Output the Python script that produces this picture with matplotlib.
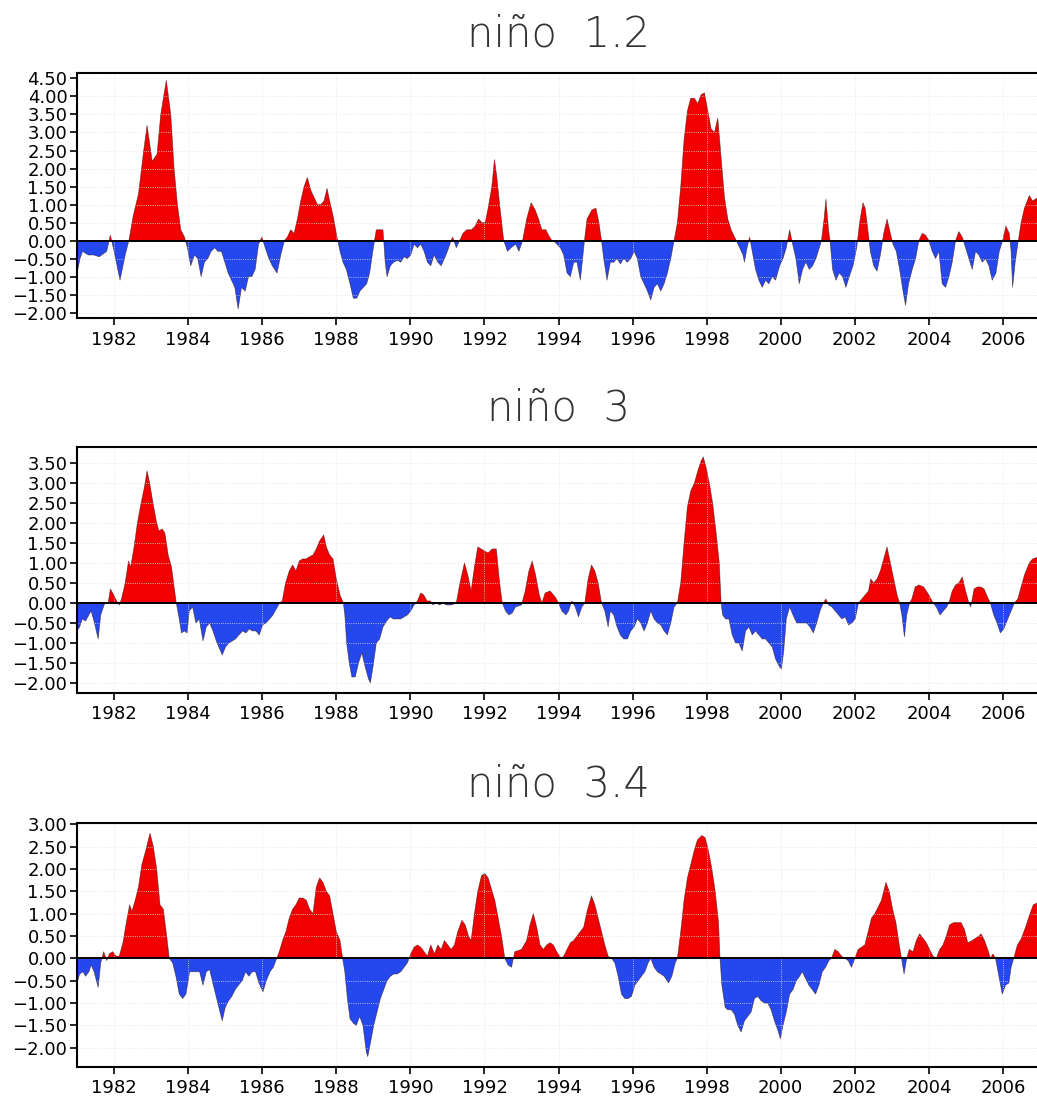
import matplotlib
matplotlib.use("Agg")
import matplotlib.pyplot as plt
import numpy as np
from matplotlib.ticker import FuncFormatter

# anomalias de TSM (leitura aproximada do grafico), tempo em anos decimais

t12 = [1981.0, 1981.08, 1981.15, 1981.3, 1981.45, 1981.6, 1981.8, 1981.9, 1982.0, 1982.16,
       1982.3, 1982.4, 1982.52, 1982.66, 1982.8, 1982.89, 1983.03, 1983.16, 1983.26, 1983.41,
       1983.53, 1983.62, 1983.71, 1983.8, 1983.9, 1983.98, 1984.07, 1984.17, 1984.26, 1984.35,
       1984.44, 1984.53, 1984.62, 1984.72, 1984.8, 1984.9, 1984.99, 1985.08, 1985.17, 1985.26,
       1985.35, 1985.44, 1985.54, 1985.63, 1985.72, 1985.81, 1985.9, 1985.99, 1986.08, 1986.18,
       1986.27, 1986.4, 1986.5, 1986.6, 1986.68, 1986.77, 1986.86, 1986.95, 1987.04, 1987.13,
       1987.22, 1987.31, 1987.4, 1987.49, 1987.58, 1987.67, 1987.75, 1987.82, 1987.91, 1988.0,
       1988.1, 1988.18, 1988.27, 1988.37, 1988.46, 1988.55, 1988.64, 1988.73, 1988.82, 1988.9,
       1989.0, 1989.08, 1989.18, 1989.26, 1989.32, 1989.37, 1989.46, 1989.55, 1989.65, 1989.74,
       1989.83, 1989.92, 1990.01, 1990.1, 1990.19, 1990.28, 1990.37, 1990.46, 1990.55, 1990.64,
       1990.74, 1990.83, 1990.92, 1991.0, 1991.1, 1991.14, 1991.24, 1991.33, 1991.42, 1991.52,
       1991.65, 1991.75, 1991.84, 1991.93, 1992.02, 1992.1, 1992.2, 1992.27, 1992.33, 1992.42,
       1992.52, 1992.62, 1992.72, 1992.84, 1992.93, 1993.03, 1993.14, 1993.26, 1993.37, 1993.46,
       1993.55, 1993.66, 1993.73, 1993.82, 1993.91, 1994.05, 1994.14, 1994.23, 1994.32, 1994.41,
       1994.5, 1994.59, 1994.65, 1994.7, 1994.77, 1994.9, 1995.01, 1995.09, 1995.16, 1995.22,
       1995.31, 1995.4, 1995.49, 1995.58, 1995.67, 1995.76, 1995.86, 1995.95, 1996.04, 1996.13,
       1996.22, 1996.31, 1996.4, 1996.49, 1996.58, 1996.67, 1996.76, 1996.85, 1996.94, 1997.03,
       1997.12, 1997.21, 1997.3, 1997.39, 1997.48, 1997.57, 1997.67, 1997.76, 1997.85, 1997.94,
       1998.03, 1998.12, 1998.21, 1998.3, 1998.39, 1998.48, 1998.57, 1998.66, 1998.75, 1998.8,
       1998.89, 1998.98, 1999.02, 1999.09, 1999.16, 1999.23, 1999.32, 1999.41, 1999.5, 1999.59,
       1999.68, 1999.77, 1999.86, 1999.97, 2000.06, 2000.15, 2000.24, 2000.32, 2000.41, 2000.5,
       2000.59, 2000.68, 2000.77, 2000.86, 2000.95, 2001.04, 2001.1, 2001.17, 2001.22, 2001.29,
       2001.33, 2001.4, 2001.49, 2001.58, 2001.67, 2001.76, 2001.85, 2001.95, 2002.05, 2002.13,
       2002.22, 2002.28, 2002.34, 2002.42, 2002.51, 2002.6, 2002.69, 2002.78, 2002.87, 2002.96,
       2003.03, 2003.12, 2003.21, 2003.3, 2003.37, 2003.45, 2003.55, 2003.64, 2003.73, 2003.82,
       2003.91, 2004.0, 2004.09, 2004.18, 2004.27, 2004.36, 2004.45, 2004.54, 2004.63, 2004.72,
       2004.81, 2004.9, 2004.99, 2005.08, 2005.17, 2005.26, 2005.35, 2005.44, 2005.53, 2005.62,
       2005.71, 2005.81, 2005.9, 2005.99, 2006.08, 2006.17, 2006.22, 2006.26, 2006.33, 2006.4,
       2006.49, 2006.58, 2006.71, 2006.8, 2006.95]
v12 = [-0.9, -0.5, -0.3, -0.4, -0.4, -0.45, -0.3, 0.15, -0.3, -1.1,
       -0.4, 0.0, 0.7, 1.3, 2.5, 3.2, 2.2, 2.4, 3.5, 4.45,
       3.5, 2.0, 1.0, 0.3, 0.1, -0.2, -0.7, -0.4, -0.5, -1.0,
       -0.6, -0.5, -0.3, -0.2, -0.3, -0.3, -0.6, -0.9, -1.1, -1.3,
       -1.9, -1.3, -1.4, -1.0, -1.0, -0.8, -0.1, 0.1, -0.2, -0.5,
       -0.7, -0.9, -0.4, 0.0, 0.1, 0.3, 0.2, 0.6, 1.1, 1.5,
       1.75, 1.4, 1.2, 1.0, 1.0, 1.1, 1.45, 1.1, 0.7, 0.2,
       -0.3, -0.6, -0.8, -1.2, -1.6, -1.6, -1.4, -1.3, -1.2, -0.9,
       -0.2, 0.3, 0.3, 0.3, -0.6, -1.0, -0.7, -0.6, -0.55, -0.6,
       -0.45, -0.5, -0.4, -0.1, -0.2, -0.1, -0.3, -0.6, -0.7, -0.4,
       -0.6, -0.7, -0.5, -0.3, 0.0, 0.1, -0.2, 0.0, 0.2, 0.3,
       0.3, 0.4, 0.6, 0.5, 0.5, 0.9, 1.5, 2.25, 1.8, 0.9,
       0.0, -0.3, -0.2, -0.1, -0.3, 0.0, 0.6, 1.05, 0.85, 0.6,
       0.3, 0.3, 0.15, 0.0, -0.05, -0.2, -0.4, -0.9, -1.0, -0.6,
       -0.6, -1.1, -0.5, 0.0, 0.6, 0.85, 0.9, 0.5, 0.0, -0.5,
       -1.1, -0.6, -0.6, -0.5, -0.65, -0.5, -0.6, -0.5, -0.3, -0.5,
       -1.0, -1.2, -1.4, -1.65, -1.3, -1.2, -1.4, -1.2, -0.9, -0.5,
       0.0, 0.5, 1.5, 2.8, 3.6, 3.95, 3.95, 3.8, 4.05, 4.1,
       3.6, 3.1, 3.0, 3.4, 2.3, 1.2, 0.6, 0.3, 0.1, 0.0,
       -0.2, -0.4, -0.6, -0.2, 0.1, -0.3, -0.8, -1.1, -1.3, -1.1,
       -1.2, -1.0, -1.1, -0.7, -0.5, -0.2, 0.3, -0.1, -0.5, -1.2,
       -0.8, -0.6, -0.8, -0.7, -0.5, -0.2, 0.0, 0.6, 1.15, 0.3,
       0.0, -0.8, -1.1, -0.9, -1.0, -1.3, -1.0, -0.7, -0.2, 0.5,
       1.05, 0.9, 0.4, -0.3, -0.7, -0.85, -0.4, 0.2, 0.6, 0.2,
       -0.1, -0.3, -0.8, -1.4, -1.8, -1.2, -0.8, -0.5, 0.0, 0.2,
       0.15, 0.0, -0.3, -0.5, -0.3, -1.2, -1.3, -1.0, -0.6, 0.0,
       0.25, 0.1, -0.2, -0.5, -0.8, -0.3, -0.4, -0.6, -0.5, -0.7,
       -1.1, -0.9, -0.3, 0.0, 0.4, 0.2, -0.3, -1.3, -0.6, -0.1,
       0.5, 0.9, 1.25, 1.1, 1.2]

t3 = [1981.0, 1981.07, 1981.14, 1981.23, 1981.32, 1981.38, 1981.47, 1981.57, 1981.64, 1981.75,
      1981.84, 1981.9, 1981.99, 1982.07, 1982.14, 1982.2, 1982.3, 1982.39, 1982.45, 1982.54,
      1982.63, 1982.73, 1982.82, 1982.89, 1982.96, 1983.05, 1983.15, 1983.21, 1983.3, 1983.37,
      1983.46, 1983.55, 1983.62, 1983.68, 1983.76, 1983.82, 1983.9, 1983.97, 1984.03, 1984.12,
      1984.21, 1984.3, 1984.4, 1984.49, 1984.58, 1984.67, 1984.76, 1984.85, 1984.92, 1985.01,
      1985.1, 1985.19, 1985.28, 1985.37, 1985.47, 1985.56, 1985.65, 1985.74, 1985.83, 1985.92,
      1986.01, 1986.1, 1986.2, 1986.29, 1986.38, 1986.47, 1986.54, 1986.63, 1986.73, 1986.82,
      1986.91, 1987.0, 1987.09, 1987.18, 1987.27, 1987.37, 1987.46, 1987.55, 1987.66, 1987.73,
      1987.82, 1987.91, 1988.0, 1988.1, 1988.19, 1988.23, 1988.28, 1988.35, 1988.42, 1988.51,
      1988.6, 1988.69, 1988.78, 1988.87, 1988.92, 1988.99, 1989.08, 1989.17, 1989.26, 1989.36,
      1989.45, 1989.54, 1989.63, 1989.74, 1989.83, 1989.92, 1990.01, 1990.1, 1990.19, 1990.28,
      1990.36, 1990.45, 1990.54, 1990.61, 1990.7, 1990.79, 1990.88, 1990.97, 1991.11, 1991.24,
      1991.34, 1991.46, 1991.55, 1991.64, 1991.73, 1991.82, 1991.91, 1992.0, 1992.1, 1992.21,
      1992.32, 1992.41, 1992.48, 1992.57, 1992.66, 1992.75, 1992.84, 1993.0, 1993.1, 1993.2,
      1993.29, 1993.38, 1993.48, 1993.55, 1993.64, 1993.77, 1993.91, 1994.0, 1994.09, 1994.2,
      1994.27, 1994.36, 1994.45, 1994.54, 1994.63, 1994.71, 1994.8, 1994.89, 1994.98, 1995.07,
      1995.16, 1995.25, 1995.34, 1995.4, 1995.49, 1995.58, 1995.67, 1995.76, 1995.86, 1995.95,
      1996.04, 1996.13, 1996.22, 1996.31, 1996.4, 1996.49, 1996.58, 1996.67, 1996.76, 1996.85,
      1996.94, 1997.03, 1997.12, 1997.21, 1997.3, 1997.39, 1997.48, 1997.57, 1997.67, 1997.76,
      1997.85, 1997.91, 1997.98, 1998.07, 1998.16, 1998.25, 1998.34, 1998.39, 1998.43, 1998.51,
      1998.6, 1998.69, 1998.78, 1998.87, 1998.96, 1999.05, 1999.14, 1999.23, 1999.32, 1999.41,
      1999.5, 1999.59, 1999.68, 1999.77, 1999.86, 1999.97, 2000.02, 2000.08, 2000.15, 2000.24,
      2000.33, 2000.43, 2000.52, 2000.61, 2000.7, 2000.79, 2000.88, 2000.97, 2001.06, 2001.15,
      2001.22, 2001.29, 2001.38, 2001.47, 2001.56, 2001.65, 2001.74, 2001.83, 2001.92, 2002.01,
      2002.1, 2002.19, 2002.28, 2002.37, 2002.43, 2002.51, 2002.6, 2002.69, 2002.78, 2002.87,
      2002.96, 2003.05, 2003.14, 2003.21, 2003.27, 2003.34, 2003.4, 2003.48, 2003.54, 2003.63,
      2003.73, 2003.86, 2004.0, 2004.11, 2004.2, 2004.3, 2004.39, 2004.48, 2004.54, 2004.63,
      2004.72, 2004.81, 2004.9, 2004.99, 2005.08, 2005.13, 2005.22, 2005.31, 2005.4, 2005.49,
      2005.58, 2005.66, 2005.75, 2005.84, 2005.93, 2006.02, 2006.13, 2006.22, 2006.31, 2006.4,
      2006.49, 2006.58, 2006.71, 2006.8, 2006.95]
v3 = [-0.7, -0.6, -0.4, -0.45, -0.3, -0.2, -0.5, -0.9, -0.3, 0.0,
      0.0, 0.35, 0.2, 0.05, -0.05, 0.1, 0.5, 1.05, 0.9, 1.4,
      2.0, 2.5, 2.9, 3.3, 3.0, 2.5, 2.0, 1.8, 1.85, 1.75,
      1.2, 0.9, 0.4, 0.0, -0.4, -0.75, -0.7, -0.75, -0.2, -0.1,
      -0.5, -0.4, -0.95, -0.6, -0.5, -0.7, -0.95, -1.15, -1.3, -1.1,
      -1.0, -0.95, -0.9, -0.8, -0.7, -0.75, -0.65, -0.7, -0.7, -0.8,
      -0.55, -0.5, -0.4, -0.3, -0.15, 0.0, 0.05, 0.5, 0.8, 0.95,
      0.8, 1.05, 1.1, 1.1, 1.15, 1.2, 1.35, 1.55, 1.7, 1.4,
      1.2, 1.1, 0.6, 0.2, 0.0, -0.3, -1.0, -1.5, -1.85, -1.85,
      -1.5, -1.25, -1.6, -1.9, -2.0, -1.6, -1.0, -0.9, -0.6, -0.45,
      -0.35, -0.4, -0.4, -0.4, -0.35, -0.3, -0.2, -0.05, 0.05, 0.25,
      0.2, 0.05, 0.05, -0.05, 0.0, -0.05, 0.0, -0.05, -0.05, 0.0,
      0.5, 1.0, 0.7, 0.3, 0.9, 1.4, 1.35, 1.3, 1.25, 1.35,
      1.35, 0.5, 0.0, -0.2, -0.3, -0.25, -0.1, -0.05, 0.3, 0.8,
      1.05, 0.7, 0.2, 0.0, 0.25, 0.3, 0.15, 0.0, -0.2, -0.3,
      -0.2, 0.05, -0.1, -0.35, -0.1, 0.0, 0.6, 0.95, 0.8, 0.5,
      0.0, -0.2, -0.6, -0.2, -0.3, -0.6, -0.8, -0.9, -0.9, -0.7,
      -0.6, -0.4, -0.5, -0.7, -0.5, -0.2, -0.4, -0.5, -0.55, -0.7,
      -0.8, -0.5, -0.1, 0.0, 0.5, 1.5, 2.4, 2.8, 3.0, 3.3,
      3.55, 3.65, 3.4, 3.0, 2.5, 1.8, 1.0, 0.0, -0.3, -0.4,
      -0.4, -0.8, -1.0, -1.0, -1.2, -0.7, -0.6, -0.8, -0.7, -0.8,
      -0.9, -0.9, -1.0, -1.1, -1.4, -1.6, -1.65, -1.2, -0.4, -0.1,
      -0.3, -0.5, -0.5, -0.5, -0.5, -0.6, -0.75, -0.5, -0.2, 0.0,
      0.1, -0.05, -0.1, -0.2, -0.3, -0.4, -0.35, -0.55, -0.5, -0.4,
      0.0, 0.1, 0.2, 0.3, 0.6, 0.5, 0.6, 0.8, 1.1, 1.4,
      1.0, 0.6, 0.2, 0.0, -0.3, -0.85, -0.3, 0.0, 0.1, 0.4,
      0.45, 0.4, 0.2, 0.0, -0.1, -0.3, -0.2, -0.1, 0.0, 0.3,
      0.45, 0.5, 0.65, 0.3, 0.0, -0.1, 0.35, 0.4, 0.4, 0.35,
      0.15, 0.0, -0.3, -0.5, -0.75, -0.65, -0.4, -0.2, 0.0, 0.1,
      0.4, 0.7, 1.0, 1.1, 1.15]

t34 = [1981.0, 1981.07, 1981.16, 1981.23, 1981.32, 1981.38, 1981.46, 1981.57, 1981.64, 1981.72,
       1981.8, 1981.87, 1981.96, 1982.05, 1982.14, 1982.24, 1982.33, 1982.42, 1982.48, 1982.57,
       1982.66, 1982.75, 1982.85, 1982.97, 1983.06, 1983.15, 1983.24, 1983.33, 1983.42, 1983.49,
       1983.58, 1983.67, 1983.76, 1983.85, 1983.94, 1984.04, 1984.13, 1984.22, 1984.31, 1984.4,
       1984.49, 1984.58, 1984.68, 1984.77, 1984.86, 1984.92, 1985.0, 1985.09, 1985.18, 1985.27,
       1985.36, 1985.46, 1985.55, 1985.64, 1985.73, 1985.82, 1985.91, 1986.02, 1986.11, 1986.21,
       1986.3, 1986.39, 1986.46, 1986.55, 1986.64, 1986.73, 1986.82, 1986.91, 1987.0, 1987.1,
       1987.19, 1987.28, 1987.37, 1987.46, 1987.55, 1987.64, 1987.73, 1987.82, 1987.91, 1988.0,
       1988.1, 1988.17, 1988.23, 1988.3, 1988.37, 1988.46, 1988.54, 1988.63, 1988.72, 1988.81,
       1988.85, 1988.92, 1989.01, 1989.1, 1989.19, 1989.28, 1989.37, 1989.46, 1989.55, 1989.64,
       1989.74, 1989.83, 1989.92, 1990.01, 1990.1, 1990.19, 1990.28, 1990.37, 1990.46, 1990.55,
       1990.65, 1990.74, 1990.83, 1990.92, 1991.01, 1991.1, 1991.19, 1991.28, 1991.39, 1991.48,
       1991.57, 1991.64, 1991.73, 1991.82, 1991.92, 1992.01, 1992.1, 1992.19, 1992.28, 1992.37,
       1992.46, 1992.55, 1992.64, 1992.73, 1992.82, 1993.0, 1993.14, 1993.23, 1993.32, 1993.41,
       1993.5, 1993.59, 1993.68, 1993.77, 1993.86, 1993.95, 1994.07, 1994.14, 1994.23, 1994.32,
       1994.41, 1994.5, 1994.59, 1994.68, 1994.77, 1994.89, 1994.98, 1995.07, 1995.16, 1995.25,
       1995.34, 1995.43, 1995.52, 1995.61, 1995.7, 1995.79, 1995.88, 1995.97, 1996.06, 1996.15,
       1996.24, 1996.33, 1996.42, 1996.49, 1996.58, 1996.67, 1996.76, 1996.85, 1996.97, 1997.06,
       1997.15, 1997.21, 1997.3, 1997.39, 1997.48, 1997.57, 1997.66, 1997.75, 1997.87, 1997.96,
       1998.05, 1998.14, 1998.23, 1998.32, 1998.36, 1998.41, 1998.5, 1998.57, 1998.66, 1998.75,
       1998.84, 1998.93, 1999.02, 1999.11, 1999.2, 1999.29, 1999.38, 1999.47, 1999.56, 1999.65,
       1999.74, 1999.83, 1999.92, 1999.99, 2000.06, 2000.15, 2000.24, 2000.33, 2000.42, 2000.51,
       2000.58, 2000.67, 2000.76, 2000.85, 2000.94, 2001.03, 2001.12, 2001.21, 2001.3, 2001.37,
       2001.46, 2001.55, 2001.64, 2001.73, 2001.82, 2001.91, 2002.0, 2002.09, 2002.18, 2002.27,
       2002.36, 2002.45, 2002.54, 2002.63, 2002.72, 2002.84, 2002.93, 2003.02, 2003.11, 2003.2,
       2003.26, 2003.33, 2003.4, 2003.47, 2003.57, 2003.66, 2003.75, 2003.84, 2003.93, 2004.02,
       2004.11, 2004.2, 2004.29, 2004.38, 2004.47, 2004.56, 2004.67, 2004.76, 2004.87, 2004.96,
       2005.05, 2005.17, 2005.26, 2005.35, 2005.41, 2005.5, 2005.59, 2005.66, 2005.73, 2005.8,
       2005.89, 2005.98, 2006.07, 2006.16, 2006.22, 2006.29, 2006.39, 2006.5, 2006.61, 2006.73,
       2006.82, 2006.95]
v34 = [-0.55, -0.35, -0.3, -0.4, -0.3, -0.15, -0.3, -0.65, -0.1, 0.15,
       -0.05, 0.1, 0.15, 0.05, 0.05, 0.35, 0.8, 1.2, 1.05, 1.3,
       1.6, 2.1, 2.4, 2.8, 2.5, 2.0, 1.2, 1.1, 0.5, 0.0,
       -0.1, -0.4, -0.8, -0.9, -0.8, -0.3, -0.3, -0.3, -0.3, -0.6,
       -0.3, -0.25, -0.6, -0.9, -1.2, -1.4, -1.1, -0.95, -0.85, -0.7,
       -0.6, -0.5, -0.3, -0.4, -0.3, -0.3, -0.55, -0.75, -0.5, -0.3,
       -0.2, 0.0, 0.15, 0.4, 0.6, 0.9, 1.1, 1.2, 1.35, 1.35,
       1.3, 1.1, 1.0, 1.6, 1.8, 1.7, 1.5, 1.4, 1.0, 0.6,
       0.4, 0.0, -0.3, -0.9, -1.35, -1.45, -1.5, -1.3, -1.5, -2.1,
       -2.2, -1.9, -1.5, -1.2, -0.9, -0.7, -0.5, -0.4, -0.35, -0.35,
       -0.3, -0.2, -0.1, 0.1, 0.25, 0.3, 0.25, 0.15, 0.05, 0.3,
       0.1, 0.3, 0.2, 0.4, 0.3, 0.2, 0.3, 0.6, 0.85, 0.75,
       0.5, 0.4, 1.0, 1.5, 1.85, 1.9, 1.8, 1.55, 1.3, 0.9,
       0.5, 0.0, -0.15, -0.2, 0.15, 0.2, 0.4, 0.75, 1.0, 0.7,
       0.3, 0.2, 0.3, 0.35, 0.3, 0.15, 0.0, 0.05, 0.2, 0.35,
       0.4, 0.5, 0.6, 0.7, 1.05, 1.4, 1.2, 0.9, 0.6, 0.3,
       0.05, 0.0, -0.1, -0.4, -0.8, -0.9, -0.9, -0.85, -0.6, -0.5,
       -0.4, -0.3, -0.1, 0.0, -0.2, -0.3, -0.35, -0.4, -0.55, -0.4,
       -0.1, 0.0, 0.6, 1.3, 1.8, 2.1, 2.4, 2.65, 2.75, 2.7,
       2.4, 2.0, 1.5, 0.8, 0.0, -0.6, -1.1, -1.15, -1.15, -1.25,
       -1.5, -1.65, -1.4, -1.3, -1.2, -0.9, -0.85, -0.95, -1.0, -1.0,
       -1.15, -1.4, -1.6, -1.8, -1.5, -1.2, -0.8, -0.7, -0.5, -0.4,
       -0.3, -0.45, -0.6, -0.7, -0.8, -0.6, -0.3, -0.2, -0.05, 0.0,
       0.2, 0.15, 0.05, 0.0, -0.05, -0.2, 0.0, 0.2, 0.25, 0.3,
       0.6, 0.9, 1.0, 1.15, 1.3, 1.7, 1.5, 1.1, 0.8, 0.3,
       0.0, -0.35, 0.0, 0.2, 0.15, 0.4, 0.55, 0.45, 0.35, 0.2,
       0.05, 0.0, 0.2, 0.3, 0.5, 0.75, 0.8, 0.8, 0.8, 0.65,
       0.35, 0.4, 0.45, 0.5, 0.55, 0.4, 0.2, 0.0, 0.1, 0.0,
       -0.4, -0.8, -0.6, -0.55, -0.2, 0.0, 0.3, 0.45, 0.7, 1.0,
       1.2, 1.25]

titulos = ['niño  1.2', 'niño  3', 'niño  3.4']
yticks = [np.arange(-2.0, 4.51, 0.5), np.arange(-2.0, 3.51, 0.5), np.arange(-2.0, 3.01, 0.5)]
ylims = [(-2.15, 4.65), (-2.25, 3.9), (-2.43, 3.03)]
anos = np.arange(1982, 2007, 2)

vermelho = '#f00000'
azul = '#2448ee'

fig = plt.figure(figsize=(10.37, 10.97), dpi=100)
posicoes = [[0.0743, 0.7101, 0.9286, 0.2233],
            [0.0743, 0.3683, 0.9286, 0.2243],
            [0.0743, 0.0274, 0.9286, 0.2224]]

series = [(t12, v12), (t3, v3), (t34, v34)]

fmt = FuncFormatter(lambda y, pos: ('%.2f' % y).replace('-', '\u2212'))

for i, (t, v) in enumerate(series):
    ax = fig.add_axes(posicoes[i])
    t = np.array(t)
    v = np.array(v)
    ax.fill_between(t, v, 0, where=v >= 0, interpolate=True, color=vermelho, lw=0)
    ax.fill_between(t, v, 0, where=v <= 0, interpolate=True, color=azul, lw=0)
    ax.plot(t, v, color='#3a1010', lw=0.5, alpha=0.6)
    ax.axhline(0, color='black', lw=1.4)
    ax.set_xlim(1981.0, 2007.0)
    ax.set_ylim(*ylims[i])
    ax.set_yticks(yticks[i])
    ax.yaxis.set_major_formatter(fmt)
    ax.set_xticks(anos)
    ax.set_xticklabels([str(a) for a in anos])
    ax.tick_params(axis='both', direction='out', length=5, width=1.2, labelsize=13, pad=2)
    ax.tick_params(axis='x', pad=4)
    ax.grid(True, color='#e4e4e4', ls=':', lw=0.6)
    for s in ax.spines.values():
        s.set_linewidth(1.5)
    ax.set_title(titulos[i], fontsize=30, fontweight='light', pad=19,
                 family=['DejaVu Sans'], color='#333333')

plt.savefig('out.png', dpi=100)
